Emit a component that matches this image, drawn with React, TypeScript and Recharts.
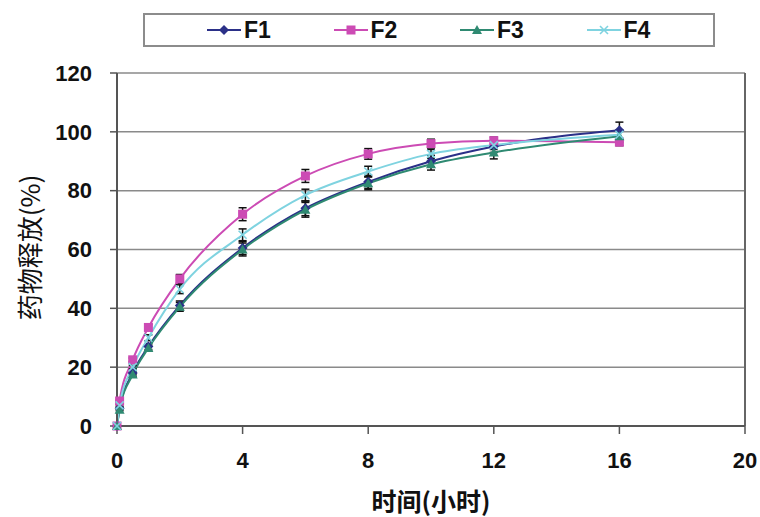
import React from 'react';
import { LineChart, Line, XAxis, YAxis, CartesianGrid, ErrorBar, Legend, ReferenceLine } from 'recharts';

const TIME = [0, 0.083, 0.5, 1, 2, 4, 6, 8, 10, 12, 16];
const F1 = [0, 6, 18, 27, 41, 60.5, 74, 83, 90, 95, 100.5];
const F2 = [0, 8.5, 22.5, 33.5, 50, 72, 85, 92.5, 96, 97, 96.5];
const F3 = [0, 5.5, 17.5, 26.5, 40.5, 60, 73.5, 82.5, 89, 93, 98.5];
const F4 = [0, 7, 20, 30, 46.5, 65, 78.5, 86.5, 92.5, 95.5, 99];
const F1_ERR = [0, 0.3, 0.6, 1, 1.5, 2.2, 2.5, 2.2, 2, 2, 2.8];
const F2_ERR = [0, 0.3, 0.6, 1, 1.5, 2.2, 2.2, 1.8, 1.5, 1.2, 1.2];
const F3_ERR = [0, 0.3, 0.6, 1, 1.5, 2.2, 2.5, 2.2, 2, 2.2, 2];
const F4_ERR = [0, 0.3, 0.6, 1, 1.5, 2, 2, 1.8, 1.5, 1.5, 1.5];
const X_TICKS = [0, 4, 8, 12, 16, 20];
const Y_TICKS = [0, 20, 40, 60, 80, 100, 120];
const X_LABEL = '时间(小时)';
const Y_LABEL = '药物释放(%)';

const SERIES = [
  { key: 'F1', name: 'F1', color: '#2B3088', shape: 'diamond', values: F1, errs: F1_ERR },
  { key: 'F2', name: 'F2', color: '#CC4BB4', shape: 'square', values: F2, errs: F2_ERR },
  { key: 'F3', name: 'F3', color: '#2F8A72', shape: 'triangle', values: F3, errs: F3_ERR },
  { key: 'F4', name: 'F4', color: '#7FD3E0', shape: 'x', values: F4, errs: F4_ERR },
];

const data = TIME.map((t, i) => {
  const row: any = { t };
  SERIES.forEach((s) => {
    row[s.key] = s.values[i];
    row[s.key + 'Err'] = s.errs[i];
  });
  return row;
});

const FONT = '"Liberation Sans", Arial, sans-serif';
const CJK = '"Noto Sans CJK SC", sans-serif';

function Marker({ shape, cx, cy, color }: any) {
  if (cx == null || cy == null) return null;
  switch (shape) {
    case 'diamond':
      return <path d={`M${cx},${cy - 5}L${cx + 5},${cy}L${cx},${cy + 5}L${cx - 5},${cy}Z`} fill={color} />;
    case 'square':
      return <rect x={cx - 4.5} y={cy - 4.5} width={9} height={9} fill={color} />;
    case 'triangle':
      return <path d={`M${cx},${cy - 5}L${cx + 5},${cy + 4}L${cx - 5},${cy + 4}Z`} fill={color} />;
    default:
      return (
        <path
          d={`M${cx - 4},${cy - 4}L${cx + 4},${cy + 4}M${cx + 4},${cy - 4}L${cx - 4},${cy + 4}`}
          stroke={color}
          strokeWidth={1.6}
          fill="none"
        />
      );
  }
}

const renderLegend = () => (
  <div
    style={{
      boxSizing: 'border-box',
      width: 572,
      height: 34,
      border: '2px solid #8c8c8c',
      background: '#fff',
      display: 'flex',
      alignItems: 'center',
      paddingLeft: 62,
    }}
  >
    {SERIES.map((s) => (
      <div key={s.key} style={{ width: 128, display: 'flex', alignItems: 'center' }}>
        <svg width={34} height={14} style={{ display: 'block' }}>
          <line x1={0} y1={7} x2={34} y2={7} stroke={s.color} strokeWidth={2} />
          <Marker shape={s.shape} cx={17} cy={7} color={s.color} />
        </svg>
        <span style={{ marginLeft: 3, fontFamily: FONT, fontWeight: 'bold', fontSize: 23, color: '#111', lineHeight: '26px' }}>
          {s.name}
        </span>
      </div>
    ))}
  </div>
);

const YLabel = (props: any) => {
  const vb = props.viewBox || {};
  const cx = vb.x + 28;
  const cy = vb.y + vb.height / 2 - 2;
  return (
    <text
      x={cx}
      y={cy}
      transform={`rotate(-90 ${cx} ${cy})`}
      textAnchor="middle"
      dominantBaseline="central"
      fontFamily={CJK}
      fontSize={26}
      fill="#111"
    >
      {Y_LABEL}
    </text>
  );
};

const XLabel = (props: any) => {
  const vb = props.viewBox || {};
  const cx = vb.x + vb.width / 2;
  const cy = vb.y + 74;
  return (
    <text x={cx} y={cy} textAnchor="middle" dominantBaseline="central" fontFamily={CJK} fontWeight="bold" fontSize={25} fill="#111">
      {X_LABEL}
    </text>
  );
};

export default function App() {
  return (
    <div style={{ position: 'absolute', left: 0, top: 0, width: 760, height: 517, background: '#fff' }}>
      <LineChart width={760} height={517} data={data} margin={{ top: 73, right: 15, bottom: 0, left: 0 }}>
        <CartesianGrid vertical={false} stroke="#8a8a8a" strokeWidth={1.5} />
        <ReferenceLine x={20} stroke="#666" strokeWidth={2} />
        <XAxis
          dataKey="t"
          type="number"
          domain={[0, 20]}
          ticks={X_TICKS}
          height={91}
          tickSize={8}
          tickMargin={18}
          axisLine={{ stroke: '#555', strokeWidth: 2 }}
          tickLine={{ stroke: '#555', strokeWidth: 1.5 }}
          tick={{ fill: '#111', fontSize: 22, fontWeight: 'bold', fontFamily: FONT }}
          label={<XLabel />}
        />
        <YAxis
          type="number"
          domain={[0, 120]}
          ticks={Y_TICKS}
          width={117}
          tickSize={7}
          tickMargin={18}
          axisLine={{ stroke: '#555', strokeWidth: 2 }}
          tickLine={{ stroke: '#555', strokeWidth: 1.5 }}
          tick={{ fill: '#111', fontSize: 22, fontWeight: 'bold', fontFamily: FONT }}
          label={<YLabel />}
        />
        <Legend
          layout="horizontal"
          verticalAlign="middle"
          align="center"
          content={renderLegend}
          wrapperStyle={{ top: 13, left: 143, width: 572, height: 34 }}
        />
        {SERIES.map((s) => (
          <Line
            key={s.key}
            type="monotone"
            dataKey={s.key}
            name={s.name}
            stroke={s.color}
            strokeWidth={2}
            isAnimationActive={false}
            dot={(p: any) => <Marker key={`${s.key}-${p.index}`} shape={s.shape} cx={p.cx} cy={p.cy} color={s.color} />}
          >
            <ErrorBar dataKey={s.key + 'Err'} width={4} stroke="#111" strokeWidth={1.5} direction="y" />
          </Line>
        ))}
      </LineChart>
    </div>
  );
}
